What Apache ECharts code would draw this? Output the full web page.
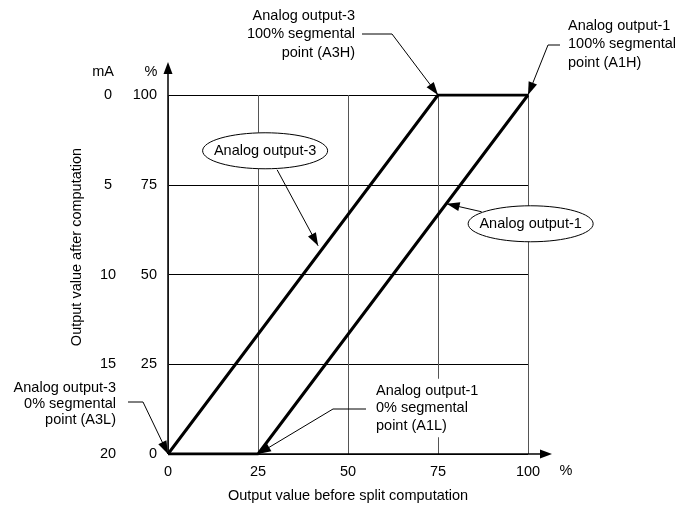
<!DOCTYPE html>
<html>
<head>
<meta charset="utf-8">
<script src="https://cdn.jsdelivr.net/npm/echarts@6/dist/echarts.min.js"></script>
<style>
	html, body { margin: 0; padding: 0; background: #fff; }
	#main { width: 677px; height: 508px; }
</style>
</head>
<body>
<div id="main"></div>
<script>
	// axis ticks
	var xTicks = [0, 25, 50, 75, 100];
	var pctTicks = [0, 25, 50, 75, 100];
	var mATicks = [20, 15, 10, 5, 0];
	// series breakpoints (input %, output %)
	var output3X = [0, 75, 100];
	var output3Y = [0, 100, 100];
	var output1X = [0, 25, 100];
	var output1Y = [0, 0, 100];
	// segmental point callouts
	var segTexts = [
		'Analog output-3\n100% segmental\npoint (A3H)',
		'Analog output-1\n100% segmental\npoint (A1H)',
		'Analog output-3\n0% segmental\npoint (A3L)',
		'Analog output-1\n0% segmental\npoint (A1L)'
	];
	var segPoints = [[75, 100], [100, 100], [0, 0], [25, 0]];
	// bubble callouts and where their arrows land
	var bubbleTexts = ['Analog output-3', 'Analog output-1'];
	var bubblePoints = [[41.7, 58], [77.4, 69.7]];

	var FONT = '"Liberation Sans", Arial, Helvetica, sans-serif';
	var FS = 14.5;

	function zip(xs, ys) {
		var out = [];
		for (var i = 0; i < xs.length; i++) {
			out.push([xs[i], ys[i]]);
		}
		return out;
	}

	var chart = echarts.init(document.getElementById('main'));
	var option = {
		animation: false,
		textStyle: { fontFamily: FONT, fontSize: FS, color: '#000' },
		grid: { left: 168, right: 149, top: 95, bottom: 53 },
		xAxis: {
			type: 'value', min: xTicks[0], max: xTicks[xTicks.length - 1], interval: 25,
			name: 'Output value before split computation',
			nameLocation: 'middle', nameGap: 34,
			nameTextStyle: { fontFamily: FONT, fontSize: FS, color: '#000' },
			axisLine: { show: false },
			axisTick: { show: false },
			axisLabel: { margin: 10, fontFamily: FONT, fontSize: FS, color: '#000' },
			splitLine: { lineStyle: { color: '#555', width: 1 } }
		},
		yAxis: [
			{
				type: 'value', min: pctTicks[0], max: pctTicks[pctTicks.length - 1], interval: 25,
				axisLine: { show: false },
				axisTick: { show: false },
				axisLabel: { margin: 11, fontFamily: FONT, fontSize: FS, color: '#000' },
				splitLine: { lineStyle: { color: '#000', width: 1 } }
			},
			{
				type: 'value', min: pctTicks[0], max: pctTicks[pctTicks.length - 1], interval: 25,
				position: 'left',
				axisLine: { show: false },
				axisTick: { show: false },
				axisLabel: {
					margin: 60, align: 'center', fontFamily: FONT, fontSize: FS, color: '#000',
					formatter: function (v) {
						var i = pctTicks.indexOf(v);
						return i < 0 ? '' : String(mATicks[i]);
					}
				},
				splitLine: { show: false }
			}
		],
		series: [
			{
				name: 'Analog output-3', type: 'line', data: zip(output3X, output3Y),
				symbol: 'none', silent: true, z: 5,
				lineStyle: { color: '#000', width: 3 }
			},
			{
				name: 'Analog output-1', type: 'line', data: zip(output1X, output1Y),
				symbol: 'none', silent: true, z: 5,
				lineStyle: { color: '#000', width: 3 }
			}
		]
	};
	chart.setOption(option);

	/**
	 * filled arrow head pointing from "from" to "tip"
	 */
	function arrowHead(tip, from, len, hw) {
		var dx = tip[0] - from[0], dy = tip[1] - from[1];
		var d = Math.sqrt(dx * dx + dy * dy);
		var ux = dx / d, uy = dy / d;
		var bx = tip[0] - ux * len, by = tip[1] - uy * len;
		return {
			type: 'polygon', z: 100, silent: true,
			shape: { points: [tip, [bx - uy * hw, by + ux * hw], [bx + uy * hw, by - ux * hw]] },
			style: { fill: '#000' }
		};
	}
	function line(points, w) {
		return {
			type: 'polyline', z: 99, silent: true,
			shape: { points: points },
			style: { stroke: '#000', lineWidth: w || 1, fill: null }
		};
	}
	function text(x, y, str, align, lh, extra) {
		var st = {
			text: str, font: FS + 'px ' + FONT, fill: '#000',
			align: align, textAlign: align,
			verticalAlign: 'middle', textVerticalAlign: 'middle',
			lineHeight: lh || 16
		};
		for (var k in extra || {}) { st[k] = extra[k]; }
		return { type: 'text', z: 101, silent: true, x: x, y: y, style: st };
	}
	function add(p, o) { return [p[0] + o[0], p[1] + o[1]]; }

	function layout() {
		var px = function (v) { return chart.convertToPixel({ gridIndex: 0 }, v); };
		var origin = px([0, 0]);
		var top = px([0, 100]);
		var right = px([100, 0]);
		var els = [];

		// axes with arrows
		els.push(line([origin, [origin[0], top[1] - 22]], 1.5));
		els.push(arrowHead([origin[0], top[1] - 33], [origin[0], top[1]], 12, 4.5));
		els.push(line([origin, [right[0] + 12, origin[1]]], 1.5));
		els.push(arrowHead([right[0] + 24, origin[1]], right, 12, 4.5));

		// unit headers
		els.push(text(origin[0] - 65, top[1] - 23, 'mA', 'center'));
		els.push(text(origin[0] - 17, top[1] - 23, '%', 'center'));
		els.push(text(right[0] + 38, origin[1] + 17, '%', 'center'));
		var yName = text(origin[0] - 91, top[1] + 152, 'Output value after computation', 'center');
		yName.rotation = Math.PI / 2;
		els.push(yName);

		// segmental callouts: [elbow, tail, text anchor] offsets from the tip
		var segLayout = [
			{ elbow: [-46, -61], tail: [-76, -61], txt: [-83, -61], align: 'right', lh: 18.5 },
			{ elbow: [20, -50], tail: [32, -50], txt: [40, -51], align: 'left', lh: 18.5 },
			{ elbow: [-25, -52], tail: [-40, -52], txt: [-52, -50], align: 'right', lh: 16 },
			{ elbow: [75, -45], tail: [108, -45], txt: [116, -46], align: 'left', lh: 17.5, bg: true }
		];
		for (var i = 0; i < segPoints.length; i++) {
			var tip = px(segPoints[i]);
			var L = segLayout[i];
			var elbow = add(tip, L.elbow);
			els.push(line([add(tip, L.tail), elbow, tip], 1));
			els.push(arrowHead(tip, elbow, 13, 4.5));
			var t = text(tip[0] + L.txt[0], tip[1] + L.txt[1], segTexts[i], L.align, L.lh,
				L.bg ? { backgroundColor: '#fff', padding: [3, 2, 3, 2] } : null);
			els.push(t);
		}

		// bubble callouts: [ellipse center, arrow tail] offsets from the tip
		var bubbleLayout = [
			{ c: [-53, -95], tail: [-41, -76], rx: 62.5, ry: 18 },
			{ c: [84, 20], tail: [35, 8], rx: 62.5, ry: 18 }
		];
		for (var j = 0; j < bubblePoints.length; j++) {
			var bt = px(bubblePoints[j]);
			var B = bubbleLayout[j];
			var c = add(bt, B.c);
			var tail = add(bt, B.tail);
			els.push({
				type: 'ellipse', z: 98, silent: true,
				shape: { cx: c[0], cy: c[1], rx: B.rx, ry: B.ry },
				style: { fill: '#fff', stroke: '#000', lineWidth: 1 }
			});
			els.push(text(c[0], c[1], bubbleTexts[j], 'center'));
			els.push(line([tail, bt], 1));
			els.push(arrowHead(bt, tail, 13, 4.5));
		}

		chart.setOption({ graphic: { elements: els } });
	}
	layout();
</script>
</body>
</html>
